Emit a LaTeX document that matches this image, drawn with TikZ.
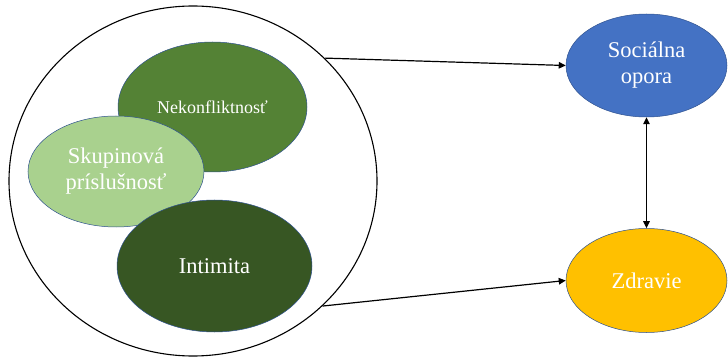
\documentclass[tikz,border=0pt]{standalone}
\usepackage{fontspec}
\setmainfont{Liberation Serif}
\usetikzlibrary{shapes.geometric,arrows.meta}

\definecolor{gmid}{HTML}{548235}
\definecolor{glight}{HTML}{A9D18E}
\definecolor{gdark}{HTML}{375623}
\definecolor{oblue}{HTML}{4472C4}
\definecolor{ogold}{HTML}{FFC000}
\definecolor{edge}{HTML}{2F528F}

\tikzset{
  blob/.style={ellipse, draw=edge, line width=0.5pt, inner sep=0pt,
    text=white, align=center, font=\fontsize{22.5}{26}\selectfont},
  tip/.style={Triangle[length=7pt,width=6.5pt]},
  link/.style={line width=1.2pt, -{Triangle[length=7pt,width=6.5pt]}},
  twoway/.style={line width=1.2pt, {Triangle[length=7pt,width=6.5pt]}-{Triangle[length=7pt,width=6.5pt]}}
}

\begin{document}
\begin{tikzpicture}[x=1pt, y=-1pt]
  \useasboundingbox (0,0) rectangle (728,358);

  % enclosing oval of the three relationship qualities
  \node[ellipse, draw=black, line width=1.1pt, minimum width=368pt, minimum height=350pt, inner sep=0pt]
    (group) at (193,181) {};

  \node[blob, fill=gmid, minimum width=189pt, minimum height=130pt,
    font=\fontsize{18}{21}\selectfont] (nek) at (212.5,107) {Nekonfliktnosť};
  \node[blob, fill=glight, minimum width=176pt, minimum height=111pt]
    (skup) at (116,171.5) {Skupinová\\príslušnosť};
  \node[blob, fill=gdark, minimum width=195pt, minimum height=132pt]
    (int) at (214.5,266) {Intimita};

  % outcomes
  \node[blob, fill=oblue, minimum width=161pt, minimum height=103pt]
    (soc) at (646.5,65.5) {Sociálna\\opora};
  \node[blob, fill=ogold, minimum width=161pt, minimum height=104pt]
    (zdr) at (646.5,280.5) {Zdravie};

  % connectors
  \draw[link] (group.43) -- (soc.west);
  \draw[link] (group.-44) -- (zdr.west);
  \draw[twoway] (soc.south) -- (zdr.north);
\end{tikzpicture}
\end{document}
